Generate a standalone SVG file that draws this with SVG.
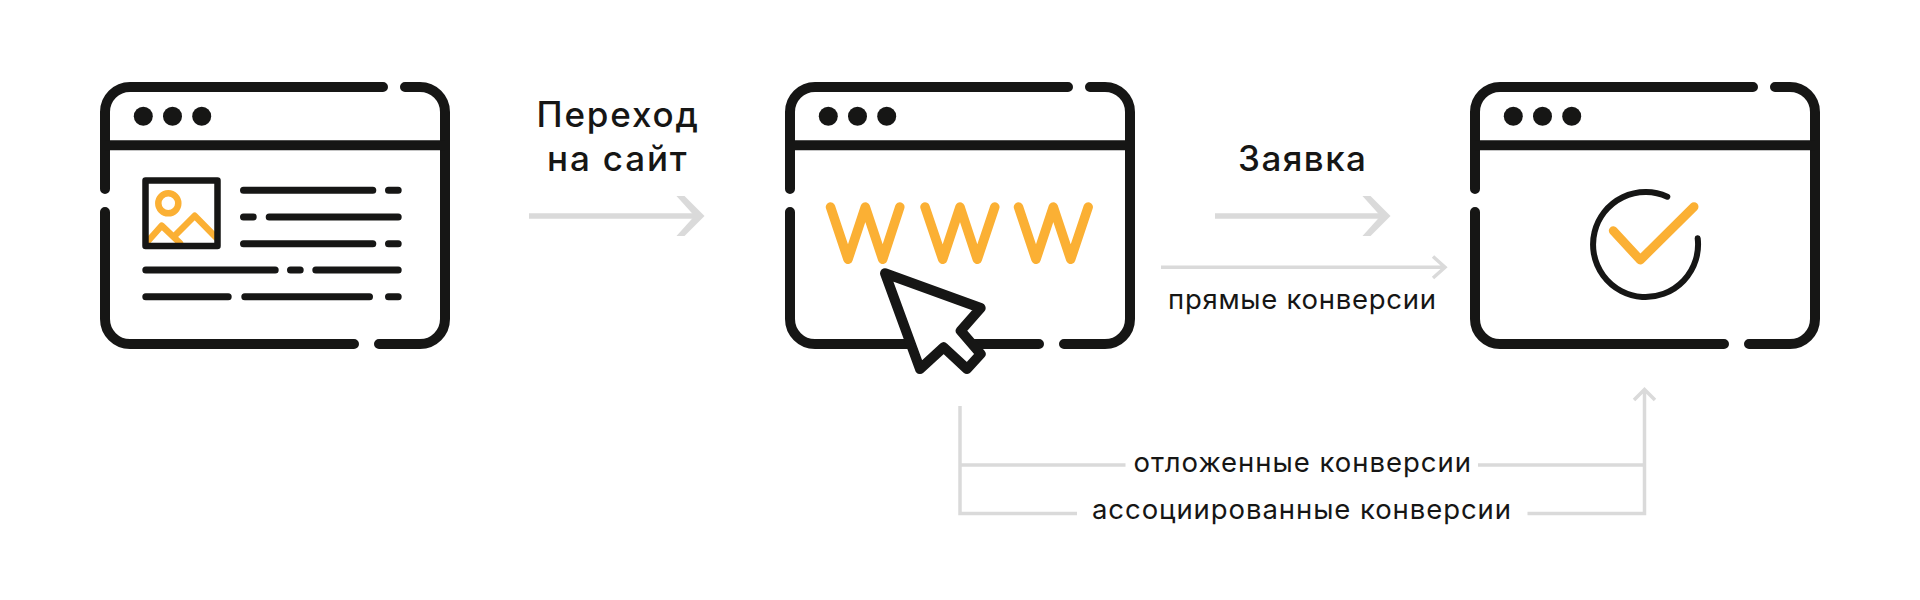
<svg xmlns="http://www.w3.org/2000/svg" xmlns:xlink="http://www.w3.org/1999/xlink" width="1920" height="600" viewBox="0 0 1920 600">
<style>
.k{fill:none;stroke:#161615;stroke-linecap:round;stroke-linejoin:round}
.w{stroke-width:10}
.l{stroke-width:7}
.o{fill:none;stroke:#FBB034;stroke-linecap:round;stroke-linejoin:round}
.d{fill:#161615}
.c{fill:none;stroke:#DADADA;stroke-width:3.500}
.h{fill:none;stroke:#DADADA;stroke-width:5.500}
.b{fill:#DADADA}
text{font-family:"Inter","Noto Sans","Liberation Sans",sans-serif;fill:#161615}
.t1{font-size:35px;font-weight:500}
.t2{font-size:27.500px;font-weight:400}
</style>
<defs>
<g id="win">
<path class="k w" d="M405 87H420A25 25 0 0 1 445 112V319A25 25 0 0 1 420 344H379"/>
<path class="k w" d="M354 344H130A25 25 0 0 1 105 319V212"/>
<path class="k w" d="M105 189V112A25 25 0 0 1 130 87H383"/>
<path class="k w" style="stroke-linecap:butt" d="M105 145.300H445"/>
<circle class="d" cx="143.300" cy="116.300" r="9.500"/>
<circle class="d" cx="172.500" cy="116.300" r="9.500"/>
<circle class="d" cx="201.700" cy="116.300" r="9.500"/>
</g>
<clipPath id="pic"><rect x="148" y="183" width="67" height="60"/></clipPath>
<path id="chev" class="b" d="M-27 -20H-19L1 0L-19 20H-27L-9 0Z"/>
</defs>
<g id="node-source">
<use href="#win"/>
<g clip-path="url(#pic)">
<circle class="o" cx="168.300" cy="203.300" r="10" stroke-width="6.500"/>
<path class="o" stroke-width="6.500" d="M148 241L161.700 225.700L180 243M175.500 235L194.700 215.700L216 237.500"/>
</g>
<rect class="k" stroke-width="6.500" x="145.500" y="180.500" width="72" height="65.500"/>
<path class="k l" d="M243.500 190.300H372.800M388.500 190.300H398.200M243.500 217H253.200M269.200 217H398.200M243.500 243.700H372.800M388.500 243.700H398.200M145.800 270H275.200M290.500 270H300.200M315.800 270H398.200M145.800 296.700H228.200M244.800 296.700H369.500M388.500 296.700H398.200"/>
</g>
<g id="node-site" transform="translate(685 0)">
<use href="#win"/>
<g transform="translate(-685 0)">
<path class="o" stroke-width="9.500" d="M830.500 207L848 259.300L865.300 207L882.700 259.300L899.800 207"/>
<path class="o" stroke-width="9.500" d="M925 207L942.700 259.300L960 207L977.300 259.300L994.800 207"/>
<path class="o" stroke-width="9.500" d="M1018.500 207L1036 259.300L1053.300 207L1070.700 259.300L1088.200 207"/>
<path fill="#fff" stroke="#161615" stroke-width="10" stroke-linejoin="round" d="M885 273.300L980.700 308L960.700 330.700L980.700 354L967 369L943.700 347.300L920 369Z"/>
</g>
</g>
<g id="node-done" transform="translate(1370 0)">
<use href="#win"/>
<g transform="translate(-1370 0)">
<path class="k" stroke-width="6" d="M1667.300 196.700A52.500 52.500 0 1 0 1697.700 238.300"/>
<path class="o" stroke-width="9" d="M1613.300 230.700L1640.300 260L1694 206.700"/>
</g>
</g>
<g id="connectors">
<path class="h" d="M529 216H698"/>
<use href="#chev" x="703.500" y="216"/>
<path class="h" d="M1215 216H1384"/>
<use href="#chev" x="1389.500" y="216"/>
<path class="c" d="M1161 267.300H1445M1433 256.500L1445 267.300L1433 278"/>
<path class="c" d="M960 406V513.500H1077M1527.500 513.500H1644.500V389.500M1634 400L1644.500 389.500L1655 400M960 465H1125.500M1478 465H1644.500"/>
</g>
<g id="labels">
<text class="t1" x="536.500" y="127.300" textLength="161.500">Переход</text>
<text class="t1" x="547" y="170.700" textLength="139.700">на сайт</text>
<text class="t1" x="1238" y="170.700" textLength="128">Заявка</text>
<text class="t2" x="1168" y="309.300" textLength="268">прямые конверсии</text>
<text class="t2" x="1133.500" y="471.700" textLength="337.500">отложенные конверсии</text>
<text class="t2" x="1092" y="519" textLength="419">ассоциированные конверсии</text>
</g>
</svg>
